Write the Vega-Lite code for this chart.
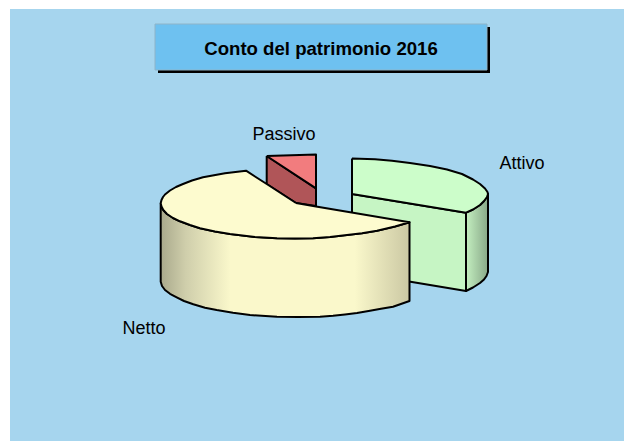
{
"$schema":"https://vega.github.io/schema/vega-lite/v6.json",
"width":624,"height":441,
"autosize":{"type":"fit","contains":"padding"},
"padding":0,
"background":"white",
"view":{"stroke":null},
"datasets":{
"panels":[
{"part":"background","x":10,"x2":624,"y":9,"y2":441},
{"part":"shadow","x":158,"x2":490,"y":27,"y2":73},
{"part":"titlebox","x":155,"x2":487,"y":24,"y2":70}
],
"labels":[
{"label":"Passivo","x":284,"y":135},
{"label":"Attivo","x":522,"y":164},
{"label":"Netto","x":144,"y":329}
],
"outlines":[
{"s":"pw","i":1,"x":266.7,"y":156},{"s":"pw","i":2,"x":316,"y":188.3},{"s":"pw","i":3,"x":316,"y":206},{"s":"pw","i":4,"x":296,"y":203},{"s":"pw","i":5,"x":266.7,"y":184},{"s":"pw","i":6,"x":266.7,"y":156},
{"s":"pt","i":1,"x":266.7,"y":156},{"s":"pt","i":2,"x":316,"y":154.5},{"s":"pt","i":3,"x":316,"y":188.3},{"s":"pt","i":4,"x":266.7,"y":156},
{"s":"af","i":1,"x":352,"y":194},{"s":"af","i":2,"x":466,"y":212.7},{"s":"af","i":3,"x":466,"y":291},{"s":"af","i":4,"x":352,"y":272},{"s":"af","i":5,"x":352,"y":194},
{"s":"as","i":1,"x":466,"y":212.7},{"s":"as","i":2,"x":473,"y":209.5},{"s":"as","i":3,"x":480,"y":205},{"s":"as","i":4,"x":484,"y":201},{"s":"as","i":5,"x":487,"y":197},{"s":"as","i":6,"x":488,"y":194},{"s":"as","i":7,"x":488,"y":272},{"s":"as","i":8,"x":486.5,"y":276},{"s":"as","i":9,"x":484,"y":279.5},{"s":"as","i":10,"x":480,"y":283},{"s":"as","i":11,"x":473,"y":287.5},{"s":"as","i":12,"x":466,"y":291},{"s":"as","i":13,"x":466,"y":212.7},
{"s":"at","i":1,"x":352,"y":158.5},{"s":"at","i":2,"x":375,"y":159.3},{"s":"at","i":3,"x":392,"y":160.7},{"s":"at","i":4,"x":410,"y":163},{"s":"at","i":5,"x":430,"y":166},{"s":"at","i":6,"x":447,"y":169.5},{"s":"at","i":7,"x":462,"y":174},{"s":"at","i":8,"x":473,"y":179.5},{"s":"at","i":9,"x":480,"y":184},{"s":"at","i":10,"x":485,"y":188.5},{"s":"at","i":11,"x":487.5,"y":192},{"s":"at","i":12,"x":488,"y":194},{"s":"at","i":13,"x":487,"y":197},{"s":"at","i":14,"x":484,"y":201},{"s":"at","i":15,"x":480,"y":205},{"s":"at","i":16,"x":473,"y":209.5},{"s":"at","i":17,"x":466,"y":212.7},{"s":"at","i":18,"x":352,"y":194},{"s":"at","i":19,"x":352,"y":158.5},
{"s":"nw","i":1,"x":160.7,"y":203.3},{"s":"nw","i":2,"x":161.5,"y":206.5},{"s":"nw","i":3,"x":163.3,"y":210},{"s":"nw","i":4,"x":167,"y":214},{"s":"nw","i":5,"x":173,"y":218},{"s":"nw","i":6,"x":180,"y":221.3},{"s":"nw","i":7,"x":190,"y":225},{"s":"nw","i":8,"x":200,"y":228.3},{"s":"nw","i":9,"x":215,"y":231.5},{"s":"nw","i":10,"x":230,"y":234},{"s":"nw","i":11,"x":255,"y":237},{"s":"nw","i":12,"x":277,"y":238.3},{"s":"nw","i":13,"x":295,"y":238.6},{"s":"nw","i":14,"x":313,"y":238.3},{"s":"nw","i":15,"x":330,"y":237},{"s":"nw","i":16,"x":347,"y":235},{"s":"nw","i":17,"x":362,"y":233.3},{"s":"nw","i":18,"x":377,"y":230.8},{"s":"nw","i":19,"x":395,"y":226.5},{"s":"nw","i":20,"x":409.5,"y":222.3},{"s":"nw","i":21,"x":409.5,"y":301},{"s":"nw","i":22,"x":393,"y":306.7},{"s":"nw","i":23,"x":381,"y":308.8},{"s":"nw","i":24,"x":370,"y":310.7},{"s":"nw","i":25,"x":357,"y":313},{"s":"nw","i":26,"x":345,"y":314.5},{"s":"nw","i":27,"x":333,"y":315.8},{"s":"nw","i":28,"x":320,"y":316.7},{"s":"nw","i":29,"x":298,"y":317},{"s":"nw","i":30,"x":277,"y":316.7},{"s":"nw","i":31,"x":250,"y":315},{"s":"nw","i":32,"x":233,"y":312.8},{"s":"nw","i":33,"x":216.7,"y":310},{"s":"nw","i":34,"x":205,"y":307.7},{"s":"nw","i":35,"x":193.3,"y":304.3},{"s":"nw","i":36,"x":184,"y":301},{"s":"nw","i":37,"x":176.7,"y":297.3},{"s":"nw","i":38,"x":170,"y":293.8},{"s":"nw","i":39,"x":165,"y":290},{"s":"nw","i":40,"x":162,"y":286},{"s":"nw","i":41,"x":160.7,"y":281.7},{"s":"nw","i":42,"x":160.7,"y":203.3},
{"s":"nt","i":1,"x":296,"y":203},{"s":"nt","i":2,"x":316,"y":206.5},{"s":"nt","i":3,"x":409.5,"y":222.3},{"s":"nt","i":4,"x":395,"y":226.5},{"s":"nt","i":5,"x":377,"y":230.8},{"s":"nt","i":6,"x":362,"y":233.3},{"s":"nt","i":7,"x":347,"y":235},{"s":"nt","i":8,"x":330,"y":237},{"s":"nt","i":9,"x":313,"y":238.3},{"s":"nt","i":10,"x":295,"y":238.6},{"s":"nt","i":11,"x":277,"y":238.3},{"s":"nt","i":12,"x":255,"y":237},{"s":"nt","i":13,"x":230,"y":234},{"s":"nt","i":14,"x":215,"y":231.5},{"s":"nt","i":15,"x":200,"y":228.3},{"s":"nt","i":16,"x":190,"y":225},{"s":"nt","i":17,"x":180,"y":221.3},{"s":"nt","i":18,"x":173,"y":218},{"s":"nt","i":19,"x":167,"y":214},{"s":"nt","i":20,"x":163.3,"y":210},{"s":"nt","i":21,"x":161.5,"y":206.5},{"s":"nt","i":22,"x":160.7,"y":203.3},{"s":"nt","i":23,"x":161.5,"y":200},{"s":"nt","i":24,"x":163,"y":197},{"s":"nt","i":25,"x":165,"y":194.5},{"s":"nt","i":26,"x":170,"y":190.5},{"s":"nt","i":27,"x":176,"y":187},{"s":"nt","i":28,"x":183,"y":184},{"s":"nt","i":29,"x":192,"y":180.5},{"s":"nt","i":30,"x":203,"y":177.3},{"s":"nt","i":31,"x":214,"y":175.2},{"s":"nt","i":32,"x":225,"y":173.3},{"s":"nt","i":33,"x":246,"y":170.7},{"s":"nt","i":34,"x":266.7,"y":184},{"s":"nt","i":35,"x":296,"y":203}
]
},
"encoding":{
"x":{"field":"x","type":"quantitative","scale":{"domain":[0,624],"nice":false,"zero":false},"axis":null},
"y":{"field":"y","type":"quantitative","scale":{"domain":[0,441],"nice":false,"zero":false,"reverse":true},"axis":null}
},
"layer":[
{"data":{"name":"panels"},"transform":[{"filter":"datum.part==='background'"}],"mark":{"type":"rect","fill":"#A6D5EE"},"encoding":{"x2":{"field":"x2"},"y2":{"field":"y2"}}},
{"data":{"name":"panels"},"transform":[{"filter":"datum.part==='shadow'"}],"mark":{"type":"rect","fill":"#000000"},"encoding":{"x2":{"field":"x2"},"y2":{"field":"y2"}}},
{"data":{"name":"panels"},"transform":[{"filter":"datum.part==='titlebox'"}],"mark":{"type":"rect","fill":"#6EC1F0","stroke":"#8FB4C8","strokeWidth":1},"encoding":{"x2":{"field":"x2"},"y2":{"field":"y2"}}},
{"data":{"name":"outlines"},"transform":[{"filter":"datum.s==='pw'"}],"mark":{"type":"line","fill":"#B05558","stroke":"#000000","strokeWidth":2,"strokeJoin":"round"},"encoding":{"order":{"field":"i"}}},
{"data":{"name":"outlines"},"transform":[{"filter":"datum.s==='pt'"}],"mark":{"type":"line","fill":"#F27C7E","stroke":"#000000","strokeWidth":2,"strokeJoin":"round"},"encoding":{"order":{"field":"i"}}},
{"data":{"name":"outlines"},"transform":[{"filter":"datum.s==='af'"}],"mark":{"type":"line","fill":"#C6F5C4","stroke":"#000000","strokeWidth":2,"strokeJoin":"round"},"encoding":{"order":{"field":"i"}}},
{"data":{"name":"outlines"},"transform":[{"filter":"datum.s==='as'"}],"mark":{"type":"line","fill":{"gradient":"linear","x1":0,"y1":0,"x2":1,"y2":0,"stops":[{"offset":0,"color":"#C4EFC0"},{"offset":1,"color":"#88A888"}]},"stroke":"#000000","strokeWidth":2,"strokeJoin":"round"},"encoding":{"order":{"field":"i"}}},
{"data":{"name":"outlines"},"transform":[{"filter":"datum.s==='at'"}],"mark":{"type":"line","fill":"#CCFDCA","stroke":"#000000","strokeWidth":2,"strokeJoin":"round"},"encoding":{"order":{"field":"i"}}},
{"data":{"name":"outlines"},"transform":[{"filter":"datum.s==='nw'"}],"mark":{"type":"line","fill":{"gradient":"linear","x1":0,"y1":0,"x2":1,"y2":0,"stops":[{"offset":0,"color":"#A9A98C"},{"offset":0.1,"color":"#CFCEAB"},{"offset":0.28,"color":"#FAF8CB"},{"offset":0.78,"color":"#FAF8CB"},{"offset":1,"color":"#CBC8A3"}]},"stroke":"#000000","strokeWidth":2,"strokeJoin":"round"},"encoding":{"order":{"field":"i"}}},
{"data":{"name":"outlines"},"transform":[{"filter":"datum.s==='nt'"}],"mark":{"type":"line","fill":"#FDFBCF","stroke":"#000000","strokeWidth":2,"strokeJoin":"round"},"encoding":{"order":{"field":"i"}}},
{"data":{"name":"labels"},"mark":{"type":"text","font":"Liberation Sans","fontSize":18,"color":"#000000","align":"center","baseline":"middle"},"encoding":{"text":{"field":"label"}}},
{"data":{"values":[{"label":"Conto del patrimonio 2016","x":321,"y":49}]},"mark":{"type":"text","font":"Liberation Sans","fontSize":18.6,"fontWeight":"bold","color":"#000000","align":"center","baseline":"middle"},"encoding":{"text":{"field":"label"}}}
]
}
